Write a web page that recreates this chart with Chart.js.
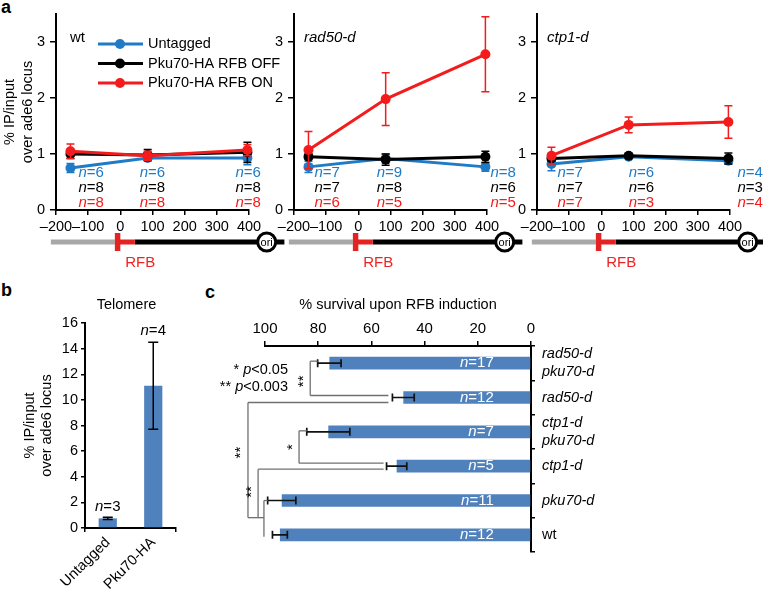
<!DOCTYPE html>
<html>
<head>
<meta charset="utf-8">
<script src="https://cdn.jsdelivr.net/npm/chart.js@4.4.1/dist/chart.umd.min.js"></script>
<style>
  html, body { margin: 0; padding: 0; background: #fff; width: 763px; height: 589px; overflow: hidden; }
  canvas { position: absolute; }
  .tag { position: absolute; font: bold 18px 'Liberation Sans', Arial, sans-serif; color: #000; }
</style>
</head>
<body>
<div class="tag" style="left:1px;top:-3px">a</div>
<div class="tag" style="left:1px;top:280px">b</div>
<div class="tag" style="left:205px;top:282px">c</div>
<canvas id="a1" width="290" height="275" style="left:0;top:0"></canvas>
<canvas id="a2" width="290" height="275" style="left:238px;top:0"></canvas>
<canvas id="a3" width="290" height="275" style="left:481px;top:0"></canvas>
<canvas id="b" width="200" height="309" style="left:0;top:280px"></canvas>
<canvas id="c" width="563" height="309" style="left:200px;top:280px"></canvas>
<script>
const FONT = "'Liberation Sans', Arial, Helvetica, sans-serif";
const BLUE = '#1f7bc6';
const BLACK = '#000000';
const RED = '#f31b1b';
const BAR = '#4f81bd';
const GREY = '#707070';

// ---- panel a : ChIP along the locus ----
const positions = [-155, 85, 395];
const seriesNames = ['Untagged', 'Pku70-HA RFB OFF', 'Pku70-HA RFB ON'];

const wtUntagged = [0.75, 0.93, 0.93];
const wtUntaggedErr = [0.08, 0.04, 0.12];
const wtOff = [1.0, 0.98, 1.03];
const wtOffErr = [0.08, 0.1, 0.18];
const wtOn = [1.05, 0.97, 1.07];
const wtOnErr = [0.13, 0.08, 0.1];
const wtN = [[6, 6, 6], [8, 8, 8], [8, 8, 8]];

const radUntagged = [0.77, 0.92, 0.77];
const radUntaggedErr = [0.1, 0.08, 0.08];
const radOff = [0.95, 0.9, 0.95];
const radOffErr = [0.05, 0.1, 0.1];
const radOn = [1.07, 1.98, 2.78];
const radOnErr = [0.33, 0.47, 0.67];
const radN = [[7, 9, 8], [7, 8, 6], [6, 5, 5]];

const ctpUntagged = [0.82, 0.95, 0.88];
const ctpUntaggedErr = [0.12, 0.03, 0.06];
const ctpOff = [0.92, 0.97, 0.92];
const ctpOffErr = [0.05, 0.04, 0.1];
const ctpOn = [0.97, 1.52, 1.57];
const ctpOnErr = [0.15, 0.14, 0.29];
const ctpN = [[7, 6, 4], [7, 6, 3], [7, 3, 4]];

// ---- panel b : telomere ----
const telomereLabels = ['Untagged', 'Pku70-HA'];
const telomereValues = [0.75, 11.1];
const telomereErr = [0.08, 3.4];
const telomereN = [3, 4];

// ---- panel c : survival ----
const strains = [['rad50-d', 'pku70-d'], ['rad50-d'], ['ctp1-d', 'pku70-d'], ['ctp1-d'], ['pku70-d'], ['wt']];
const survival = [75.8, 48.0, 76.2, 50.5, 93.7, 94.4];
const survivalErr = [4.4, 4.1, 8.1, 3.8, 5.3, 2.8];
const survivalN = [17, 12, 7, 5, 11, 12];

function drawN(ctx, x, y, n, color, size, align) {
  ctx.save();
  ctx.fillStyle = color;
  ctx.textBaseline = 'middle';
  ctx.textAlign = 'left';
  ctx.font = 'italic ' + size + 'px ' + FONT;
  const w1 = ctx.measureText('n').width;
  ctx.font = size + 'px ' + FONT;
  const rest = '=' + n;
  const w2 = ctx.measureText(rest).width;
  let x0 = x;
  if (align === 'center') x0 = x - (w1 + w2) / 2;
  if (align === 'right') x0 = x - w1 - w2;
  ctx.font = 'italic ' + size + 'px ' + FONT;
  ctx.fillText('n', x0, y);
  ctx.font = size + 'px ' + FONT;
  ctx.fillText(rest, x0 + w1, y);
  ctx.restore();
}

function drawRotated(ctx, lines, xs, yc, size) {
  ctx.save();
  ctx.fillStyle = '#000';
  ctx.font = size + 'px ' + FONT;
  ctx.textAlign = 'center';
  ctx.textBaseline = 'middle';
  lines.forEach(function(t, i) {
    ctx.save();
    ctx.translate(xs[i], yc);
    ctx.rotate(-Math.PI / 2);
    ctx.fillText(t, 0, 0);
    ctx.restore();
  });
  ctx.restore();
}

const panelsA = [
  { id: 'a1', name: 'wt', italic: false, legend: true,
    series: [wtUntagged, wtOff, wtOn], errs: [wtUntaggedErr, wtOffErr, wtOnErr], ns: wtN,
    nOffsets: [8, -8, -12] },
  { id: 'a2', name: 'rad50-d', italic: true, legend: false,
    series: [radUntagged, radOff, radOn], errs: [radUntaggedErr, radOffErr, radOnErr], ns: radN,
    nOffsets: [6, -9, 5] },
  { id: 'a3', name: 'ctp1-d', italic: true, legend: false,
    series: [ctpUntagged, ctpOff, ctpOn], errs: [ctpUntaggedErr, ctpOffErr, ctpOnErr], ns: ctpN,
    nOffsets: [6, 0, 9] }
];
const seriesColors = [BLUE, BLACK, RED];

panelsA.forEach(function(p) {
  const datasets = p.series.map(function(vals, s) {
    return {
      label: seriesNames[s],
      data: positions.map(function(x, i) { return { x: x, y: vals[i] }; }),
      errors: p.errs[s],
      borderColor: seriesColors[s],
      backgroundColor: seriesColors[s],
      pointBackgroundColor: seriesColors[s],
      pointBorderWidth: 0,
      pointRadius: 5,
      borderWidth: 3,
      order: 3 - s,
      clip: false
    };
  });

  const extras = {
    id: 'extras_' + p.id,
    afterDatasetDraw: function(chart, args) {
      const ds = chart.data.datasets[args.index];
      const ys = chart.scales.y;
      const ctx = chart.ctx;
      ctx.save();
      ctx.strokeStyle = ds.borderColor;
      ctx.lineWidth = 1.5;
      args.meta.data.forEach(function(pt, i) {
        const v = ds.data[i].y, e = ds.errors[i];
        const y1 = ys.getPixelForValue(v + e), y2 = ys.getPixelForValue(v - e);
        ctx.beginPath();
        ctx.moveTo(pt.x, y1); ctx.lineTo(pt.x, y2);
        ctx.moveTo(pt.x - 4, y1); ctx.lineTo(pt.x + 4, y1);
        ctx.moveTo(pt.x - 4, y2); ctx.lineTo(pt.x + 4, y2);
        ctx.stroke();
      });
      ctx.restore();
    },
    afterDraw: function(chart) {
      const ctx = chart.ctx;
      const xs = chart.scales.x;
      const area = chart.chartArea;
      // panel name
      ctx.save();
      ctx.fillStyle = '#000';
      ctx.textBaseline = 'middle';
      ctx.font = (p.italic ? 'italic ' : '') + '15px ' + FONT;
      ctx.fillText(p.name, area.left + (p.italic ? 10 : 14), area.top + 24);
      ctx.restore();

      // n labels under the points
      const rows = [37, 22, 7];
      p.ns.forEach(function(row, s) {
        row.forEach(function(n, i) {
          const x = xs.getPixelForValue(positions[i]) + p.nOffsets[i];
          drawN(ctx, x, area.bottom - rows[s], n, seriesColors[s], 15, 'left');
        });
      });

      // locus diagram
      const y0 = area.bottom + 32;
      const px = function(v) { return xs.getPixelForValue(v); };
      ctx.save();
      ctx.lineWidth = 5;
      ctx.strokeStyle = '#a8a8a8';
      ctx.beginPath(); ctx.moveTo(px(-216), y0); ctx.lineTo(px(-17), y0); ctx.stroke();
      ctx.strokeStyle = '#000';
      ctx.beginPath(); ctx.moveTo(px(45), y0); ctx.lineTo(px(510), y0); ctx.stroke();
      ctx.strokeStyle = '#e52222';
      ctx.beginPath(); ctx.moveTo(px(-2), y0); ctx.lineTo(px(45), y0); ctx.stroke();
      ctx.fillStyle = '#e52222';
      ctx.fillRect(px(-17), y0 - 9, px(0) - px(-17), 18);
      // ori
      ctx.beginPath();
      ctx.arc(px(455), y0, 9, 0, Math.PI * 2);
      ctx.fillStyle = '#fff';
      ctx.fill();
      ctx.lineWidth = 3;
      ctx.strokeStyle = '#000';
      ctx.stroke();
      ctx.fillStyle = '#000';
      ctx.font = '11px ' + FONT;
      ctx.textAlign = 'center';
      ctx.textBaseline = 'middle';
      ctx.fillText('ori', px(455), y0 + 0.5);
      ctx.fillStyle = '#ee2222';
      ctx.font = '15px ' + FONT;
      ctx.fillText('RFB', px(62), y0 + 21);
      ctx.restore();

      if (p.legend) {
        ctx.save();
        seriesNames.forEach(function(name, s) {
          const y = area.top + 30 + s * 19.5;
          ctx.strokeStyle = seriesColors[s];
          ctx.fillStyle = seriesColors[s];
          ctx.lineWidth = 3;
          ctx.beginPath(); ctx.moveTo(area.left + 42, y); ctx.lineTo(area.left + 87, y); ctx.stroke();
          ctx.beginPath(); ctx.arc(area.left + 64, y, 5, 0, Math.PI * 2); ctx.fill();
          ctx.fillStyle = '#000';
          ctx.font = '14.5px ' + FONT;
          ctx.textBaseline = 'middle';
          ctx.fillText(name, area.left + 92, y);
        });
        ctx.restore();
        drawRotated(ctx, ['% IP/input', 'over ade6 locus'], [10, 28], (area.top + area.bottom) / 2, 14.5);
      }
    }
  };

  new Chart(document.getElementById(p.id), {
    type: 'line',
    data: { datasets: datasets },
    options: {
      responsive: false,
      animation: false,
      layout: { padding: { left: 0, right: 41, top: 14, bottom: 0 } },
      plugins: { legend: { display: false }, tooltip: { enabled: false } },
      scales: {
        x: {
          type: 'linear', min: -200, max: 400,
          ticks: {
            stepSize: 100, color: '#000', font: { family: FONT, size: 14.5 }, padding: 3,
            maxRotation: 0, autoSkip: false,
            callback: function(v) { return String(v).replace('-', '\u2013'); }
          },
          grid: { drawOnChartArea: false, tickLength: 5, color: '#000', lineWidth: 1.5 },
          border: { color: '#000', width: 2 },
          afterFit: function(s) { s.height = 65; }
        },
        y: {
          min: 0, max: 3.5,
          ticks: { stepSize: 1, color: '#000', font: { family: FONT, size: 14.5 }, padding: 5 },
          grid: { drawOnChartArea: false, tickLength: 6, color: '#000', lineWidth: 1.5 },
          border: { color: '#000', width: 2 },
          afterBuildTicks: function(s) { s.ticks = s.ticks.filter(function(t) { return Number.isInteger(t.value); }); },
          afterFit: function(s) { s.width = 56; }
        }
      }
    },
    plugins: [extras]
  });
});

// ---- panel b ----
new Chart(document.getElementById('b'), {
  type: 'bar',
  data: {
    labels: telomereLabels,
    datasets: [{ data: telomereValues, backgroundColor: BAR, categoryPercentage: 1, barPercentage: 0.4 }]
  },
  options: {
    responsive: false,
    animation: false,
    layout: { padding: { left: 0, right: 24, top: 43, bottom: 0 } },
    plugins: { legend: { display: false }, tooltip: { enabled: false } },
    scales: {
      x: {
        ticks: { color: '#000', font: { family: FONT, size: 14.5 }, minRotation: 45, maxRotation: 45, padding: 2, autoSkip: false },
        grid: {
          drawOnChartArea: false, tickLength: 4, lineWidth: 1.5,
          color: function(c) { return c.index === 1 ? 'rgba(0,0,0,0)' : '#000'; }
        },
        border: { color: '#000', width: 2 },
        afterFit: function(s) { s.height = 61; }
      },
      y: {
        min: 0, max: 16,
        ticks: { stepSize: 2, color: '#000', font: { family: FONT, size: 14.5 }, padding: 3 },
        grid: { drawOnChartArea: false, tickLength: 4, color: '#000', lineWidth: 1.5 },
        border: { color: '#000', width: 2 },
        afterFit: function(s) { s.width = 85; }
      }
    }
  },
  plugins: [{
    id: 'telomereExtras',
    afterDatasetsDraw: function(chart) {
      const ctx = chart.ctx;
      const ys = chart.scales.y;
      const meta = chart.getDatasetMeta(0);
      const area = chart.chartArea;
      ctx.save();
      ctx.strokeStyle = '#000';
      ctx.lineWidth = 1.5;
      meta.data.forEach(function(bar, i) {
        const v = telomereValues[i], e = telomereErr[i];
        const y1 = ys.getPixelForValue(v + e), y2 = ys.getPixelForValue(v - e);
        ctx.beginPath();
        ctx.moveTo(bar.x, y1); ctx.lineTo(bar.x, y2);
        ctx.moveTo(bar.x - 5, y1); ctx.lineTo(bar.x + 5, y1);
        ctx.moveTo(bar.x - 5, y2); ctx.lineTo(bar.x + 5, y2);
        ctx.stroke();
        drawN(ctx, bar.x, y1 - 11, telomereN[i], '#000', 15, 'center');
      });
      ctx.fillStyle = '#000';
      ctx.font = '14.5px ' + FONT;
      ctx.textAlign = 'center';
      ctx.textBaseline = 'middle';
      ctx.fillText('Telomere', (area.left + area.right) / 2 - 4, 25);
      ctx.restore();
      drawRotated(ctx, ['% IP/input', 'over ade6 locus'], [30, 47], (area.top + area.bottom) / 2, 14.5);
    }
  }]
});

// ---- panel c ----
new Chart(document.getElementById('c'), {
  type: 'bar',
  data: {
    labels: strains,
    datasets: [{ data: survival, backgroundColor: BAR, categoryPercentage: 1, barPercentage: 0.37 }]
  },
  options: {
    indexAxis: 'y',
    responsive: false,
    animation: false,
    layout: { padding: { left: 65, right: 0, top: 0, bottom: 37 } },
    plugins: { legend: { display: false }, tooltip: { enabled: false } },
    scales: {
      x: {
        position: 'top', reverse: true, min: 0, max: 100,
        ticks: { stepSize: 20, color: '#000', font: { family: FONT, size: 15 }, padding: 3, maxRotation: 0 },
        grid: { drawOnChartArea: false, tickLength: 5, color: '#000', lineWidth: 1.5 },
        border: { color: '#000', width: 2 },
        title: { display: true, text: '% survival upon RFB induction', color: '#000', font: { family: FONT, size: 14.5 }, padding: { top: 16, bottom: 0 } },
        afterFit: function(s) { s.height = 66; }
      },
      y: {
        position: 'right',
        ticks: {
          color: '#000', padding: 7, autoSkip: false,
          font: function(c) {
            const lab = strains[c.index];
            const upright = lab && lab[0] === 'wt';
            return { family: FONT, size: 14.5, style: upright ? 'normal' : 'italic', lineHeight: 1.2 };
          }
        },
        grid: { drawOnChartArea: false, tickLength: 4, color: '#000', lineWidth: 1.5, offset: true },
        border: { color: '#000', width: 2 },
        afterFit: function(s) { s.width = 232; }
      }
    }
  },
  plugins: [{
    id: 'survivalExtras',
    afterDatasetsDraw: function(chart) {
      const ctx = chart.ctx;
      const xs = chart.scales.x, ys = chart.scales.y;
      const px = function(v) { return xs.getPixelForValue(v); };
      const py = function(i) { return ys.getPixelForValue(i); };
      const errL = function(i) { return px(survival[i] + survivalErr[i]); };
      const area = chart.chartArea;

      // n labels inside bars
      survivalN.forEach(function(n, i) {
        drawN(ctx, px(14), py(i), n, '#fff', 15, 'right');
      });

      // error bars
      ctx.save();
      ctx.strokeStyle = '#111';
      ctx.lineWidth = 1.7;
      survival.forEach(function(v, i) {
        const y = py(i), x1 = px(v + survivalErr[i]), x2 = px(v - survivalErr[i]);
        ctx.beginPath();
        ctx.moveTo(x1, y); ctx.lineTo(x2, y);
        ctx.moveTo(x1, y - 4); ctx.lineTo(x1, y + 4);
        ctx.moveTo(x2, y - 4); ctx.lineTo(x2, y + 4);
        ctx.stroke();
      });
      ctx.restore();

      // significance tree
      const x1 = px(83), x2 = px(87.2), x3 = px(100.4), x4 = px(102.6), x5 = px(106.4);
      const mid = (py(4) + py(5)) / 2;
      ctx.save();
      ctx.strokeStyle = GREY;
      ctx.lineWidth = 1.3;
      const seg = function(ax, ay, bx, by) { ctx.beginPath(); ctx.moveTo(ax, ay); ctx.lineTo(bx, by); ctx.stroke(); };
      seg(errL(0), py(0) - 2, x1, py(0) - 2);
      seg(x1, py(0) - 2, x1, py(1) - 2);
      seg(x1, py(1) - 2, errL(1) - 4, py(1) - 2);
      seg(errL(1) - 4, py(1) + 5, x5, py(1) + 5);
      seg(x5, py(1) + 5, x5, mid);
      seg(errL(2), py(2) - 1, x2, py(2) - 1);
      seg(x2, py(2) - 1, x2, py(3) - 3);
      seg(x2, py(3) - 3, errL(3) - 3, py(3) - 3);
      seg(errL(3) - 3, py(3) + 3, x4, py(3) + 3);
      seg(x4, py(3) + 3, x4, mid);
      seg(errL(4), py(4), x3, py(4));
      seg(x3, py(4), x3, py(5) + 2);
      seg(x5, mid, x3, mid);
      ctx.restore();

      // stars
      const star = function(txt, x, y) {
        ctx.save();
        ctx.translate(x, y);
        ctx.rotate(-Math.PI / 2);
        ctx.fillStyle = '#000';
        ctx.font = '15px ' + FONT;
        ctx.textAlign = 'center';
        ctx.textBaseline = 'middle';
        ctx.fillText(txt, 0, 0);
        ctx.restore();
      };
      star('**', x1 - 6, (py(0) + py(1)) / 2 + 1);
      star('*', x2 - 6, (py(2) + py(3)) / 2 - 2);
      star('**', x4 - 6, (py(3) + mid) / 2);
      star('**', x5 - 7, (py(1) + mid) / 2 - 5);

      // p-value key
      ctx.save();
      ctx.fillStyle = '#000';
      ctx.textBaseline = 'middle';
      ctx.textAlign = 'left';
      const key = [['*', '<0.05', 90], ['**', '<0.003', 107]];
      key.forEach(function(k) {
        ctx.font = '14.5px ' + FONT;
        const wS = ctx.measureText(k[0] + ' ').width;
        const wV = ctx.measureText(k[1]).width;
        ctx.font = 'italic 14.5px ' + FONT;
        const wP = ctx.measureText('p').width;
        const xr = area.left + 23;
        const x0 = xr - wS - wP - wV;
        ctx.font = '14.5px ' + FONT;
        ctx.fillText(k[0] + ' ', x0, k[2]);
        ctx.font = 'italic 14.5px ' + FONT;
        ctx.fillText('p', x0 + wS, k[2]);
        ctx.font = '14.5px ' + FONT;
        ctx.fillText(k[1], x0 + wS + wP, k[2]);
      });
      ctx.restore();
    }
  }]
});
</script>
</body>
</html>
